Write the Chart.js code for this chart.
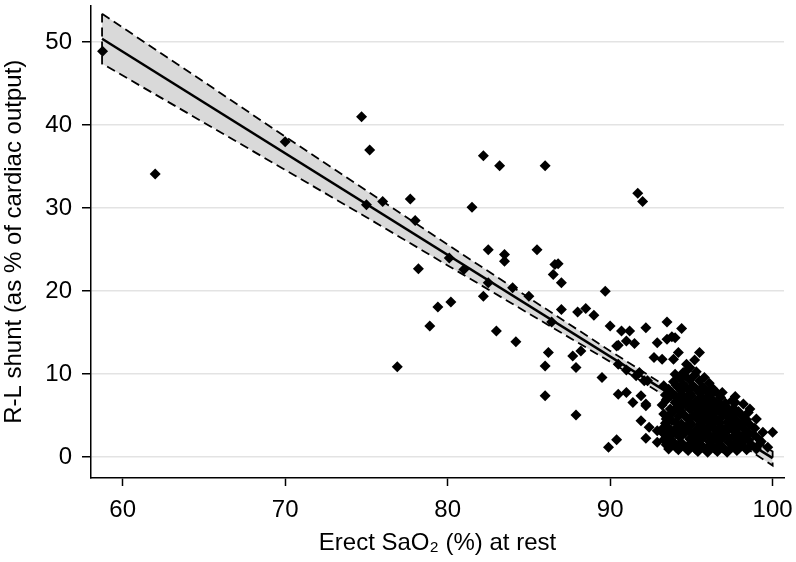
<!DOCTYPE html>
<html>
<head>
<meta charset="utf-8">
<script src="https://cdn.jsdelivr.net/npm/chart.js@4.4.1/dist/chart.umd.min.js"></script>
<style>
  html, body { margin: 0; padding: 0; background: #fff; }
</style>
</head>
<body>
<canvas id="shuntChart" width="796" height="562"></canvas>
<script>
// axis ticks
const xTicks = [60, 70, 80, 90, 100];
const yTicks = [0, 10, 20, 30, 40, 50];

// fitted regression line (end points)
const fitX = [58.73, 100];
const fitY = [50.4, -0.11];

// 95% confidence band of the fit
const bandX = [58.73, 65, 70, 75, 80, 85, 90, 95, 100];
const bandUpper = [53.4, 45.2, 38.6, 32.1, 25.6, 19.2, 12.8, 6.6, 0.7];
const bandLower = [47.4, 40.3, 34.6, 28.9, 23.1, 17.3, 11.5, 5.4, -1.0];

// patients: [erect SaO2 %, R-L shunt %]
const patients = [
  [58.76, 48.9], [62.0, 34.1], [70.0, 38.0], [74.7, 41.0], [75.2, 37.0],
  [75.0, 30.4], [76.0, 30.8], [77.7, 31.1], [78.0, 28.5], [78.2, 22.7],
  [76.9, 10.9], [82.2, 36.3], [83.2, 35.1], [86.0, 35.1], [91.7, 31.8],
  [92.0, 30.8], [81.5, 30.1], [82.5, 25.0], [83.5, 24.4], [83.5, 23.6],
  [85.5, 25.0], [86.6, 23.2], [86.8, 23.3], [86.5, 22.0], [87.0, 21.0],
  [80.1, 24.0], [81.0, 22.6], [82.5, 21.0], [84.0, 20.4], [85.0, 19.4],
  [82.2, 19.4], [89.7, 20.0], [79.4, 18.1], [80.2, 18.7], [78.9, 15.8],
  [83.0, 15.2], [84.2, 13.9], [87.0, 17.8], [88.0, 17.5], [88.5, 17.9],
  [89.0, 17.1], [86.4, 16.3], [90.0, 15.8], [90.7, 15.2], [91.2, 15.2],
  [91.0, 14.0], [91.5, 13.7], [90.5, 13.5], [92.2, 15.6], [93.5, 16.3],
  [94.4, 15.5], [92.9, 13.8], [93.5, 14.2], [93.8, 14.5], [94.0, 14.4],
  [86.2, 12.6], [87.7, 12.2], [88.2, 12.8], [95.5, 12.6], [95.2, 11.7],
  [94.2, 12.6], [92.7, 12.0], [93.2, 11.8], [93.9, 11.8], [86.0, 11.0],
  [86.0, 7.4], [87.9, 5.1], [87.9, 10.8], [89.5, 9.6], [89.9, 1.2],
  [90.4, 2.1], [100.0, 3.0], [99.7, 1.2], [90.5, 7.6], [91.0, 7.8],
  [91.4, 6.6], [92.2, 6.4], [91.9, 4.4], [92.4, 3.6], [92.2, 2.3],
  [92.9, 1.8], [93.7, 1.3], [92.9, 3.2], [93.2, 3.4], [96.9, 7.8],
  [97.7, 7.3], [98.6, 5.8], [98.2, 6.4], [99.2, 1.6], [97.5, 6.8],
  [97.2, 6.0], [94.7, 11.2], [94.9, 10.8], [94.5, 10.2], [90.5, 11.2],
  [91.0, 10.5], [91.6, 9.8], [92.3, 9.2], [91.8, 10.2], [92.1, 9.2],
  [91.9, 7.4], [92.2, 6.2], [93.45, 2.6], [93.97, 1.6], [90.4, 13.4],
  [93.3, 2.1], [93.2, 3.0], [93.4, 4.1], [93.3, 5.2], [93.2, 6.3], [93.4, 7.5], [93.3, 8.6],
  [93.6, 1.0], [93.7, 2.6], [93.5, 3.7], [93.6, 4.8], [93.7, 5.8], [93.5, 7.0], [93.6, 8.2],
  [93.9, 1.8], [94.0, 3.2], [93.8, 4.4], [93.9, 5.5], [94.0, 6.6], [93.8, 7.8], [93.9, 9.1], [94.0, 10.0],
  [94.2, 0.9], [94.3, 2.4], [94.1, 3.6], [94.2, 4.9], [94.3, 6.0], [94.1, 7.2], [94.2, 8.4], [94.3, 9.5],
  [94.5, 1.5], [94.6, 2.9], [94.4, 4.0], [94.5, 5.2], [94.6, 6.4], [94.4, 7.6], [94.5, 8.8], [94.6, 9.8],
  [94.8, 0.8], [94.9, 2.2], [94.7, 3.4], [94.8, 4.6], [94.9, 5.8], [94.7, 6.9], [94.8, 8.1], [94.9, 9.3], [94.7, 10.4],
  [95.1, 1.4], [95.2, 2.7], [95.0, 3.9], [95.1, 5.0], [95.2, 6.2], [95.0, 7.4], [95.1, 8.6], [95.2, 9.9],
  [95.4, 0.7], [95.5, 2.0], [95.3, 3.3], [95.4, 4.5], [95.5, 5.6], [95.3, 6.8], [95.4, 8.0], [95.5, 9.2], [95.3, 10.3],
  [95.7, 1.2], [95.8, 2.5], [95.6, 3.8], [95.7, 4.9], [95.8, 6.1], [95.6, 7.3], [95.7, 8.5], [95.8, 9.6],
  [96.0, 0.6], [96.1, 1.9], [95.9, 3.1], [96.0, 4.3], [96.1, 5.5], [95.9, 6.7], [96.0, 7.9], [96.1, 8.9],
  [96.3, 1.3], [96.4, 2.6], [96.2, 3.7], [96.3, 4.8], [96.4, 6.0], [96.2, 7.1], [96.3, 8.3],
  [96.6, 0.7], [96.7, 2.0], [96.5, 3.2], [96.6, 4.4], [96.7, 5.6], [96.5, 6.6], [96.6, 7.7],
  [96.9, 1.1], [97.0, 2.4], [96.8, 3.6], [96.9, 4.9], [97.0, 6.1], [96.8, 7.2],
  [97.2, 0.6], [97.3, 1.8], [97.1, 3.0], [97.2, 4.2], [97.3, 5.3], [97.1, 6.5],
  [97.5, 1.2], [97.6, 2.5], [97.4, 3.7], [97.5, 4.8], [97.6, 5.9],
  [97.8, 0.8], [97.9, 2.0], [97.7, 3.2], [97.8, 4.4], [97.9, 5.5], [97.7, 6.6],
  [98.1, 1.4], [98.2, 2.7], [98.0, 3.8], [98.1, 5.0],
  [98.4, 0.9], [98.5, 2.1], [98.3, 3.3], [98.4, 4.5], [98.5, 5.4],
  [98.7, 1.5], [98.8, 2.8], [98.6, 3.9],
  [99.0, 1.0], [99.1, 2.3], [98.9, 3.5], [99.0, 4.6],
  [99.3, 1.9], [99.4, 3.0],
  [93.45, 1.5], [93.45, 4.6], [93.45, 6.9],
  [93.75, 2.0], [93.75, 3.2], [93.75, 5.3], [93.75, 7.4],
  [94.05, 1.2], [94.05, 2.8], [94.05, 4.2], [94.05, 5.9], [94.05, 8.7],
  [94.35, 1.8], [94.35, 3.1], [94.35, 5.6], [94.35, 6.8], [94.35, 8.0],
  [94.65, 1.1], [94.65, 3.6], [94.65, 4.9], [94.65, 7.1], [94.65, 8.5],
  [94.95, 1.7], [94.95, 3.0], [94.95, 4.1], [94.95, 6.5], [94.95, 7.6],
  [95.25, 1.0], [95.25, 2.3], [95.25, 4.9], [95.25, 5.9], [95.25, 8.3],
  [95.55, 1.6], [95.55, 2.9], [95.55, 4.0], [95.55, 6.3], [95.55, 7.7],
  [95.85, 1.0], [95.85, 3.4], [95.85, 5.3], [95.85, 7.0],
  [96.15, 1.5], [96.15, 2.6], [96.15, 4.9], [96.15, 6.2], [96.15, 7.4],
  [96.45, 1.0], [96.45, 2.2], [96.45, 4.2], [96.45, 5.3],
  [96.75, 1.6], [96.75, 2.9], [96.75, 4.1], [96.75, 6.4],
  [97.05, 1.0], [97.05, 3.3], [97.05, 5.2],
  [97.35, 2.3], [97.35, 3.6], [97.35, 4.7],
  [97.65, 1.6], [97.65, 4.0], [97.65, 5.2],
  [97.95, 1.1], [97.95, 2.6], [97.95, 3.9],
  [98.25, 2.0], [98.25, 4.2],
  [98.55, 1.2], [98.55, 2.9],
];

const FONT = "'Liberation Sans', Arial, Helvetica, sans-serif";

const toXY = (xs, ys) => xs.map((x, i) => ({ x: x, y: ys[i] }));

// closed outline of the band: upper edge forward, lower edge back
const bandOutline = toXY(bandX, bandUpper)
  .concat(toXY(bandX, bandLower).reverse())
  .concat([{ x: bandX[0], y: bandUpper[0] }]);

const ctx = document.getElementById("shuntChart").getContext("2d");

const chart = new Chart(ctx, {
  type: "scatter",
  data: {
    datasets: [
      {
        label: "Fit",
        data: toXY(fitX, fitY),
        showLine: true,
        borderColor: "#000",
        borderWidth: 2.5,
        pointRadius: 0,
        fill: false,
        order: 0,
      },
      {
        label: "CI outline",
        data: bandOutline,
        showLine: true,
        borderColor: "#000",
        borderWidth: 1.8,
        borderDash: [9, 5],
        pointRadius: 0,
        fill: false,
        order: 1,
      },
      {
        label: "Patients",
        data: patients.map((p) => ({ x: p[0], y: p[1] })),
        pointStyle: "rectRot",
        pointRadius: 5.5,
        pointHoverRadius: 5.5,
        pointBorderWidth: 0,
        backgroundColor: "#000",
        borderColor: "#000",
        order: 2,
      },
      {
        label: "CI upper",
        data: toXY(bandX, bandUpper),
        showLine: true,
        borderWidth: 0,
        pointRadius: 0,
        backgroundColor: "#d9d9d9",
        fill: "+1",
        order: 3,
      },
      {
        label: "CI lower",
        data: toXY(bandX, bandLower),
        showLine: true,
        borderWidth: 0,
        pointRadius: 0,
        fill: false,
        order: 4,
      },
    ],
  },
  options: {
    responsive: false,
    animation: false,
    layout: {
      padding: { top: 3, right: 12, bottom: 0, left: 0 },
    },
    plugins: {
      legend: { display: false },
      tooltip: { enabled: false },
    },
    scales: {
      x: {
        type: "linear",
        min: 58.05,
        max: 100.7,
        afterBuildTicks: (scale) => {
          scale.ticks = xTicks.map((v) => ({ value: v }));
        },
        afterFit: (scale) => {
          scale.height = 84;
          scale.paddingLeft = 0;
          scale.paddingRight = 0;
        },
        border: { display: true, color: "#000", width: 1.5 },
        grid: {
          drawOnChartArea: false,
          drawTicks: true,
          tickLength: 8,
          tickColor: "#000",
          tickWidth: 1.5,
        },
        ticks: {
          color: "#000",
          padding: 10,
          maxRotation: 0,
          font: { family: FONT, size: 24 },
        },
        title: {
          display: true,
          text: "Erect SaO\u2082 (%) at rest",
          color: "#000",
          font: { family: FONT, size: 24 },
          padding: { top: 0, bottom: 4 },
        },
      },
      y: {
        type: "linear",
        min: -2.5,
        max: 54.4,
        afterBuildTicks: (scale) => {
          scale.ticks = yTicks.map((v) => ({ value: v }));
        },
        afterFit: (scale) => {
          scale.width = 91;
          scale.paddingTop = 0;
          scale.paddingBottom = 0;
        },
        border: { display: true, color: "#000", width: 1.5 },
        grid: {
          drawOnChartArea: true,
          color: "#e3e3e3",
          lineWidth: 1.5,
          drawTicks: true,
          tickLength: 9,
          tickColor: "#000",
          tickWidth: 1.5,
        },
        ticks: {
          color: "#000",
          padding: 10,
          font: { family: FONT, size: 24 },
        },
        title: {
          display: true,
          text: "R-L shunt (as % of cardiac output)",
          color: "#000",
          font: { family: FONT, size: 24 },
          padding: { top: 0, bottom: 0 },
        },
      },
    },
  },
});
</script>
</body>
</html>
